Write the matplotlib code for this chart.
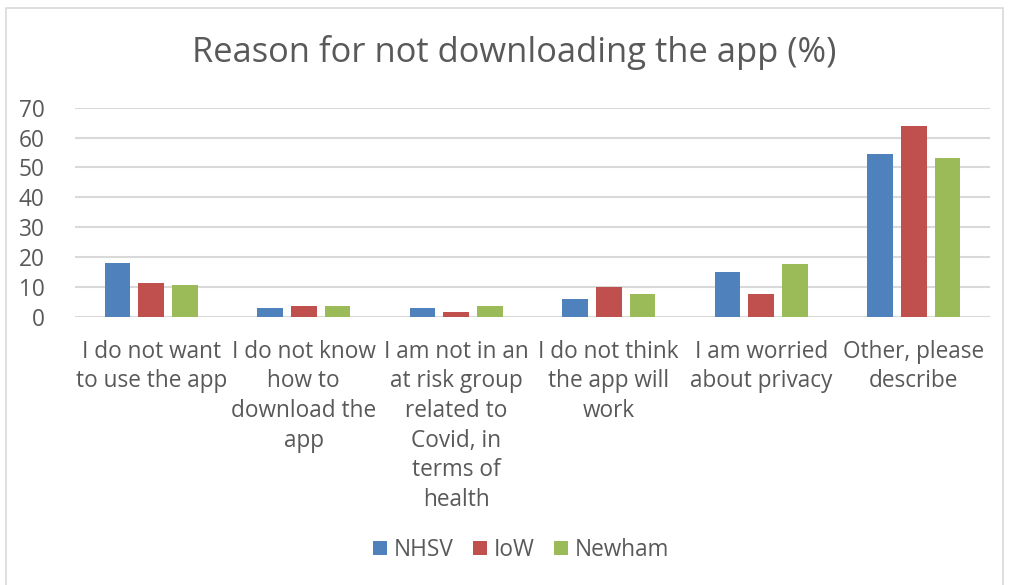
import matplotlib.pyplot as plt
from matplotlib.patches import Rectangle
import numpy as np

categories = [
    "I do not want\nto use the app",
    "I do not know\nhow to\ndownload the\napp",
    "I am not in an\nat risk group\nrelated to\nCovid, in\nterms of\nhealth",
    "I do not think\nthe app will\nwork",
    "I am worried\nabout privacy",
    "Other, please\ndescribe",
]
nhsv = [18, 2.8, 2.8, 5.8, 14.9, 54.4]
iow = [11.4, 3.6, 1.5, 10.0, 7.5, 63.9]
newham = [10.5, 3.6, 3.6, 7.5, 17.5, 53.0]
series_names = ["NHSV", "IoW", "Newham"]
y_ticks = [0, 10, 20, 30, 40, 50, 60, 70]

colors = ["#4F81BD", "#C0504D", "#9BBB59"]
text_color = "#595959"

plt.rcParams["font.family"] = ["Open Sans", "DejaVu Sans"]

fig = plt.figure(figsize=(10.1, 5.85), dpi=100)
ax = fig.add_axes([75 / 1010, 1 - 316.7 / 585, 915 / 1010, 209 / 585])

x = np.arange(len(categories))
offset = 0.222
width = 0.168
for i, (vals, name) in enumerate(zip([nhsv, iow, newham], series_names)):
    ax.bar(x + (i - 1) * offset, vals, width, color=colors[i], label=name, zorder=3)

ax.set_xlim(-0.5, len(categories) - 0.5)
ax.set_ylim(0, 70)
ax.set_yticks(y_ticks)
ax.yaxis.grid(True, color="#D9D9D9", linewidth=1.5, zorder=0)
ax.set_axisbelow(True)
for s in ax.spines.values():
    s.set_visible(False)
ax.tick_params(axis="y", length=0, pad=22, labelsize=16.3, labelcolor=text_color)
ax.tick_params(axis="x", length=0, pad=16.5, labelsize=16.3, labelcolor=text_color)
ax.set_xticks(x)
ax.set_xticklabels(categories, linespacing=1.315)

fig.text(0.509, 1 - 52 / 585, "Reason for not downloading the app (%)", ha="center",
         va="center", fontsize=24.8, color=text_color)

fig.legend(loc="center", bbox_to_anchor=(0.516, 1 - 550 / 585), ncol=3, frameon=False,
           fontsize=16.3, labelcolor=text_color, handlelength=0.6, handleheight=0.6,
           handletextpad=0.3, columnspacing=0.87)

fig.patches.append(Rectangle((6 / 1010, -0.1), 997 / 1010, 1.1 - 8 / 585,
                             transform=fig.transFigure, fill=False,
                             edgecolor="#D9D9D9", linewidth=1.2))

fig.savefig("out.png", dpi=100)
